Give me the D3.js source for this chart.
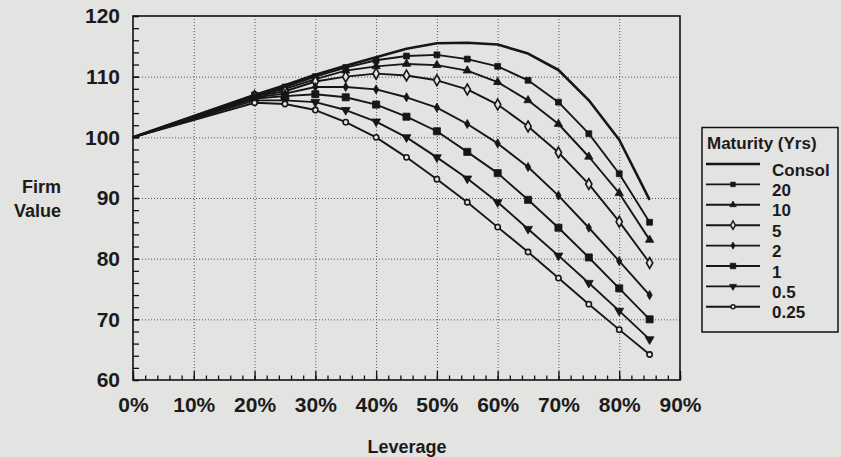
<!DOCTYPE html>
<html>
<head>
<meta charset="utf-8">
<script src="https://cdn.jsdelivr.net/npm/d3@7"></script>
<style>
body{margin:0;background:#e3e3e1;}
svg{display:block;font-family:"Liberation Sans",Arial,sans-serif;font-weight:bold;}
.tick text{fill:#1b1b1b;}
.grid line{stroke:#555;stroke-width:1;stroke-dasharray:1,2;}
.grid path{display:none;}
</style>
</head>
<body>
<div id="chart"></div>
<script>
var leverage=[0,0.20,0.25,0.30,0.35,0.40,0.45,0.50,0.55,0.60,0.65,0.70,0.75,0.80,0.85];
var maturities=['Consol','20','10','5','2','1','0.5','0.25'];
var consol=[100,107.0,108.6,110.3,111.8,113.2,114.6,115.5,115.6,115.3,113.8,111.1,106.1,99.6,89.7];
var m20=[100,107.0,108.3,110.0,111.5,112.7,113.4,113.6,112.9,111.7,109.4,105.8,100.6,94.0,86.0];
var m10=[100,106.9,108.0,109.6,111.0,111.7,112.1,111.9,111.0,109.1,106.1,102.2,96.8,90.8,83.1];
var m5=[100,106.8,107.6,109.2,110.0,110.5,110.2,109.4,107.9,105.4,101.8,97.5,92.3,86.1,79.3];
var m2=[100,106.6,107.2,108.3,108.3,107.9,106.6,104.9,102.2,99.0,95.1,90.4,85.1,79.6,74.0];
var m1=[100,106.4,106.8,107.1,106.6,105.4,103.4,101.0,97.6,94.1,89.7,85.1,80.2,75.1,70.0];
var m05=[100,106.1,106.1,105.8,104.5,102.6,100.0,96.7,93.2,89.3,84.9,80.5,76.0,71.4,66.7];
var m025=[100,105.7,105.5,104.5,102.5,100.0,96.7,93.1,89.3,85.2,81.1,76.8,72.5,68.3,64.2];
var xTicks=[0,0.1,0.2,0.3,0.4,0.5,0.6,0.7,0.8,0.9];
var yTicks=[60,70,80,90,100,110,120];

var values=[consol,m20,m10,m5,m2,m1,m05,m025];
// marker for each maturity: symbol, size, filled, rotation
var marks=[null,
  {s:d3.symbolSquare,z:34,f:true,r:0},
  {s:d3.symbolTriangle,z:30,f:true,r:0},
  {s:d3.symbolDiamond,z:34,f:false,r:0},
  {s:d3.symbolDiamond,z:24,f:true,r:0},
  {s:d3.symbolSquare,z:50,f:true,r:0},
  {s:d3.symbolTriangle,z:34,f:true,r:180},
  {s:d3.symbolCircle,z:22,f:false,r:0}];
var series=maturities.map(function(m,i){return {name:m,vals:values[i],mark:marks[i]};});

var svg=d3.select('#chart').append('svg').attr('width',841).attr('height',457);
var x=d3.scaleLinear().domain([0,0.9]).range([133,680]);
var y=d3.scaleLinear().domain([60,120]).range([380,16]);

svg.append('g').attr('class','grid').attr('transform','translate(0,380)')
  .call(d3.axisBottom(x).tickValues(xTicks.slice(1,-1)).tickSize(-364).tickFormat(''));
svg.append('g').attr('class','grid').attr('transform','translate(133,0)')
  .call(d3.axisLeft(y).tickValues(yTicks.slice(1,-1)).tickSize(-547).tickFormat(''));

// minor ticks
svg.append('g').attr('transform','translate(133,0)')
  .call(d3.axisLeft(y).ticks(30).tickSize(-6).tickFormat(''))
  .call(function(g){g.select('.domain').remove();g.selectAll('line').attr('stroke','#111').attr('stroke-width',1.3);});
svg.append('g').attr('transform','translate(0,380)')
  .call(d3.axisBottom(x).ticks(45).tickSize(-4.5).tickFormat(''))
  .call(function(g){g.select('.domain').remove();g.selectAll('line').attr('stroke','#111').attr('stroke-width',1.3);});

svg.append('g').attr('transform','translate(133,0)')
  .call(d3.axisLeft(y).tickValues(yTicks).tickSize(-6).tickPadding(13))
  .call(function(g){g.select('.domain').remove();g.selectAll('line').attr('stroke','#111').attr('stroke-width',1.3);
    g.selectAll('text').attr('font-size',21).attr('font-family','"Liberation Sans",Arial,sans-serif').attr('font-weight','bold');});
svg.append('g').attr('transform','translate(0,380)')
  .call(d3.axisBottom(x).tickValues(xTicks).tickSize(-9).tickPadding(17).tickFormat(d3.format('.0%')))
  .call(function(g){g.select('.domain').remove();g.selectAll('line').attr('stroke','#111').attr('stroke-width',1.3);
    g.selectAll('text').attr('font-size',21).attr('font-family','"Liberation Sans",Arial,sans-serif').attr('font-weight','bold');});

svg.append('rect').attr('x',133).attr('y',16).attr('width',547).attr('height',364)
  .attr('fill','none').attr('stroke','#111').attr('stroke-width',1.6);

var line=d3.line().x(function(d,i){return x(leverage[i]);}).y(function(d){return y(d);});
var sym=function(m,k){return d3.symbol().type(m.s).size(m.z*(k||1))();};

var gs=svg.selectAll('.series').data(series).enter().append('g');
gs.append('path').attr('d',function(d){return line(d.vals);}).attr('fill','none')
  .attr('stroke','#161616').attr('stroke-width',function(d,i){return i==0?2.6:1.9;}).attr('stroke-linejoin','round');
gs.each(function(d){
  if(!d.mark) return;
  d3.select(this).selectAll('.pt').data(d.vals.slice(1)).enter().append('path')
    .attr('d',sym(d.mark))
    .attr('transform',function(v,i){return 'translate('+x(leverage[i+1])+','+y(v)+') rotate('+d.mark.r+')';})
    .attr('fill',d.mark.f?'#161616':'#e3e3e1').attr('stroke','#161616').attr('stroke-width',d.mark.f?0.8:1.6);
});

svg.append('text').attr('x',61).attr('y',193).attr('text-anchor','end').attr('font-size',18).attr('fill','#1b1b1b').text('Firm');
svg.append('text').attr('x',61).attr('y',217).attr('text-anchor','end').attr('font-size',18).attr('fill','#1b1b1b').text('Value');
svg.append('text').attr('x',407).attr('y',453).attr('text-anchor','middle').attr('font-size',18).attr('fill','#1b1b1b').text('Leverage');

var lg=svg.append('g');
lg.append('rect').attr('x',702).attr('y',127.5).attr('width',136).attr('height',204.5)
  .attr('fill','none').attr('stroke','#111').attr('stroke-width',1.5);
lg.append('text').attr('x',707).attr('y',149).attr('font-size',17).attr('fill','#1b1b1b').text('Maturity (Yrs)');
var items=lg.selectAll('.item').data(series).enter().append('g')
  .attr('transform',function(d,i){return 'translate(0,'+(164+i*20.4)+')';});
items.append('line').attr('x1',706).attr('x2',760).attr('stroke','#161616').attr('stroke-width',function(d,i){return i==0?2.6:1.9;});
items.filter(function(d){return d.mark;}).append('path')
  .attr('d',function(d){return sym(d.mark,0.6);})
  .attr('transform',function(d){return 'translate(733,0) rotate('+d.mark.r+')';})
  .attr('fill',function(d){return d.mark.f?'#161616':'#e3e3e1';}).attr('stroke','#161616')
  .attr('stroke-width',function(d){return d.mark.f?0.8:1.4;});
items.append('text').attr('x',772).attr('y',11.5).attr('font-size',17).attr('fill','#1b1b1b').text(function(d){return d.name;});
</script>
</body>
</html>
